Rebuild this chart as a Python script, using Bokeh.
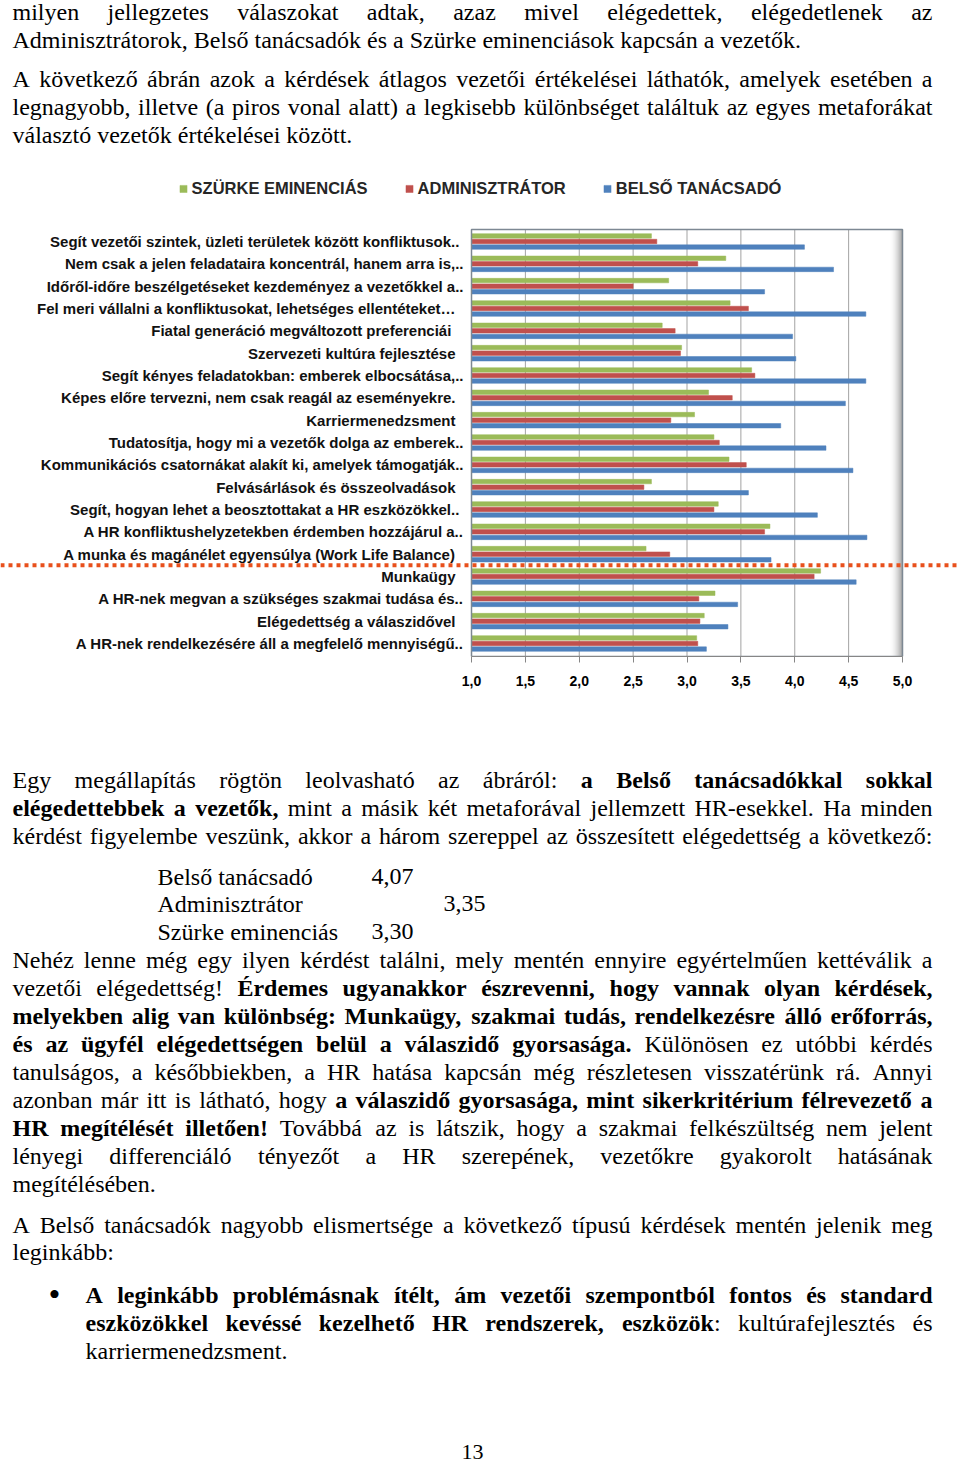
from bokeh.plotting import figure
from bokeh.models import (Range1d, Span, Legend, LegendItem, FixedTicker,
                          CustomJSTickFormatter, ColumnDataSource)
from bokeh.layouts import column
from bokeh.core.properties import value
from bokeh.embed import file_html
from bokeh.resources import INLINE

# ---------------- data ----------------
categories = [
    "Segít vezetői szintek, üzleti területek  között konfliktusok..",
    "Nem csak a jelen feladataira koncentrál, hanem arra is,..",
    "Időről-időre beszélgetéseket kezdeményez a vezetőkkel a..",
    "Fel meri vállalni a konfliktusokat, lehetséges ellentéteket…",
    "Fiatal generáció megváltozott  preferenciái",
    "Szervezeti kultúra fejlesztése",
    "Segít kényes feladatokban: emberek elbocsátása,..",
    "Képes előre tervezni, nem csak reagál az eseményekre.",
    "Karriermenedzsment",
    "Tudatosítja, hogy mi a vezetők dolga az emberek..",
    "Kommunikációs csatornákat alakít ki, amelyek támogatják..",
    "Felvásárlások és összeolvadások",
    "Segít,  hogyan lehet a beosztottakat a HR eszközökkel..",
    "A HR konfliktushelyzetekben érdemben hozzájárul a..",
    "A munka és magánélet egyensúlya (Work Life Balance)",
    "Munkaügy",
    "A HR-nek megvan a szükséges szakmai tudása és..",
    "Elégedettség a válaszidővel",
    "A HR-nek rendelkezésére áll a megfelelő mennyiségű..",
]
szurke_eminencias = [2.67, 3.36, 2.83, 3.40, 2.77, 2.95, 3.60, 3.20, 3.07, 3.25,
                     3.39, 2.67, 3.29, 3.77, 2.62, 4.24, 3.26, 3.16, 3.09]
adminisztrator = [2.72, 3.10, 2.50, 3.57, 2.89, 2.94, 3.63, 3.42, 2.85, 3.30,
                  3.55, 2.60, 3.25, 3.72, 2.84, 4.18, 3.11, 3.12, 3.10]
belso_tanacsado = [4.09, 4.36, 3.72, 4.66, 3.98, 4.01, 4.66, 4.47, 3.87, 4.29,
                   4.54, 3.57, 4.21, 4.67, 3.78, 4.57, 3.47, 3.38, 3.18]
series_labels = ["SZÜRKE EMINENCIÁS", "ADMINISZTRÁTOR", "BELSŐ TANÁCSADÓ"]
x_ticks = [1.0, 1.5, 2.0, 2.5, 3.0, 3.5, 4.0, 4.5, 5.0]
separator_before = "Munkaügy"
summary_roles = ["Belső tanácsadó", "Adminisztrátor", "Szürke eminenciás"]
summary_values = [4.07, 3.35, 3.30]

# ---------------- styling ----------------
W = 960
SERIF = "Liberation Serif"
SANS = "Liberation Sans"
FS = 24
COLORS = ["#9bbb59", "#c0504d", "#4f81bd"]
X0, X1 = 12, 932

REG_W = {' ': 250, ',': 250, '.': 250, ':': 278, ';': 278, '!': 333, '?': 444, '-': 333,
         '(': 333, ')': 333, '•': 350,
         'A': 722, 'B': 667, 'C': 667, 'D': 722, 'E': 611, 'F': 556, 'G': 722, 'H': 722,
         'I': 333, 'J': 389, 'K': 722, 'L': 611, 'M': 889, 'N': 722, 'O': 722, 'P': 556,
         'Q': 722, 'R': 667, 'S': 556, 'T': 611, 'U': 722, 'V': 722, 'W': 944, 'X': 722,
         'Y': 722, 'Z': 611,
         'a': 444, 'b': 500, 'c': 444, 'd': 500, 'e': 444, 'f': 333, 'g': 500, 'h': 500,
         'i': 278, 'j': 278, 'k': 500, 'l': 278, 'm': 778, 'n': 500, 'o': 500, 'p': 500,
         'q': 500, 'r': 333, 's': 389, 't': 278, 'u': 500, 'v': 500, 'w': 722, 'x': 500,
         'y': 500, 'z': 444}
BOLD_W = {' ': 250, ',': 250, '.': 250, ':': 333, ';': 333, '!': 333, '?': 500, '-': 333,
          '(': 333, ')': 333,
          'A': 722, 'B': 667, 'C': 722, 'D': 722, 'E': 667, 'F': 611, 'G': 778, 'H': 778,
          'I': 389, 'J': 500, 'K': 778, 'L': 667, 'M': 944, 'N': 722, 'O': 778, 'P': 611,
          'Q': 778, 'R': 722, 'S': 556, 'T': 667, 'U': 722, 'V': 722, 'W': 1000, 'X': 722,
          'Y': 722, 'Z': 667,
          'a': 500, 'b': 556, 'c': 444, 'd': 556, 'e': 444, 'f': 333, 'g': 500, 'h': 556,
          'i': 278, 'j': 333, 'k': 556, 'l': 278, 'm': 833, 'n': 556, 'o': 500, 'p': 556,
          'q': 556, 'r': 444, 's': 389, 't': 333, 'u': 556, 'v': 500, 'w': 722, 'x': 500,
          'y': 500, 'z': 444}
for d in (REG_W, BOLD_W):
    for ch in "0123456789":
        d[ch] = 500
ACC = str.maketrans("áéíóöőúüűÁÉÍÓÖŐÚÜŰ", "aeiooouuuAEIOOOUUU")


def tw(s, bold):
    t = BOLD_W if bold else REG_W
    return sum(t.get(c, 500) for c in s.translate(ACC)) * FS / 1000.0


def text_fig(height):
    f = figure(width=W, height=height, x_range=Range1d(0, W), y_range=Range1d(height, 0),
               output_backend="svg", toolbar_location=None, min_border=0,
               x_axis_location=None, y_axis_location=None)
    f.grid.visible = False
    f.outline_line_color = None
    return f


def draw_lines(f, lines, y_off):
    acc = {False: dict(x=[], y=[], t=[]), True: dict(x=[], y=[], t=[])}

    def add(x, y, s, b):
        acc[b]["x"].append(x)
        acc[b]["y"].append(y - y_off)
        acc[b]["t"].append(s)

    for y, runs, justify, x0, x1 in lines:
        if not justify and len(runs) == 1:
            add(x0, y, runs[0][0], runs[0][1])
            continue
        words, cur = [], []
        for text, bold in runs:
            parts = text.split(" ")
            for k, part in enumerate(parts):
                if k > 0 and cur:
                    words.append(cur)
                    cur = []
                if part:
                    cur.append((part, bold))
        if cur:
            words.append(cur)
        widths = [sum(tw(p, b) for p, b in w) for w in words]
        if justify and len(words) > 1:
            gap = (x1 - x0 - sum(widths)) / (len(words) - 1)
        else:
            gap = tw(" ", False)
        x = x0
        for w, wd in zip(words, widths):
            px = x
            for p, b in w:
                add(px, y, p, b)
                px += tw(p, b)
            x += wd + gap
    for b, d in acc.items():
        if d["t"]:
            f.text(x="x", y="y", text="t", source=ColumnDataSource(d),
                   text_font=value(SERIF), text_font_size=f"{FS}px",
                   text_font_style="bold" if b else "normal",
                   text_align="left", text_baseline="middle", text_color="#000000")


# ---------------- top text ----------------
TOP_H = 150
top = text_fig(TOP_H)
top_lines = [
    (11, [("milyen jellegzetes válaszokat adtak, azaz mivel elégedettek, elégedetlenek az", False)], True, X0, X1),
    (39, [("Adminisztrátorok, Belső tanácsadók és a Szürke eminenciások kapcsán a vezetők.", False)], False, X0, X1),
    (78, [("A következő ábrán azok a kérdések átlagos vezetői értékelései láthatók, amelyek esetében a", False)], True, X0, X1),
    (106, [("legnagyobb, illetve (a piros vonal alatt) a legkisebb különbséget találtuk az egyes metaforákat", False)], True, X0, X1),
    (134, [("választó vezetők értékelései között.", False)], False, X0, X1),
]
draw_lines(top, top_lines, 0)

# ---------------- chart ----------------
CH_TOP, CH_BOTTOM = 150, 710
AREA_TOP_PX, AREA_BOTTOM_PX = 229, 656
ROW0_PX, ROWN_PX = 241, 643
AXIS_L_PX, AXIS_R_PX = 471, 902
n = len(categories)
pitch = (ROWN_PX - ROW0_PX) / (n - 1)
ppu = (AXIS_R_PX - AXIS_L_PX) / (x_ticks[-1] - x_ticks[0])
xs = x_ticks[0] - AXIS_L_PX / ppu
xe = xs + W / ppu
y_top = (CH_TOP - ROW0_PX) / pitch
y_bot = (AREA_BOTTOM_PX - ROW0_PX) / pitch
area_top = (AREA_TOP_PX - ROW0_PX) / pitch

chart = figure(width=W, height=CH_BOTTOM - CH_TOP, x_range=Range1d(xs, xe),
               y_range=Range1d(y_bot, y_top), output_backend="svg", toolbar_location=None,
               min_border_left=0, min_border_right=0, min_border_top=0,
               min_border_bottom=CH_BOTTOM - AREA_BOTTOM_PX, y_axis_location=None)
chart.outline_line_color = None
chart.grid.visible = False

# grid lines
chart.segment(x0=x_ticks[1:-1], x1=x_ticks[1:-1], y0=area_top, y1=y_bot,
              line_color="#a3a3a3", line_width=1)

# shadow on right side of plot area
px = 1.0 / ppu
steps = 12
for i in range(steps):
    g = int(252 - (252 - 140) * (i / (steps - 1)) ** 1.6)
    chart.quad(left=x_ticks[-1] - (steps - i) * px, right=x_ticks[-1] - (steps - i - 1) * px,
               top=area_top, bottom=y_bot, fill_color=f"#{g:02x}{g:02x}{g:02x}",
               line_color=None)

idx = list(range(n))
src = ColumnDataSource(dict(
    g=[i - 0.25 for i in idx], r=idx, b=[i + 0.25 for i in idx],
    s=szurke_eminencias, a=adminisztrator, bt=belso_tanacsado,
))
renderers = []
for ycol, xcol, color in (("g", "s", COLORS[0]), ("r", "a", COLORS[1]), ("b", "bt", COLORS[2])):
    renderers.append(chart.hbar(y=ycol, left=x_ticks[0], right=xcol, height=0.2, source=src,
                                fill_color=color, line_color=color, line_width=0.5))

# plot area border
chart.quad(left=x_ticks[0], right=x_ticks[-1], top=area_top, bottom=y_bot,
           fill_color=None, line_color="#7d8893", line_width=1.5)

# category labels
lab = ColumnDataSource(dict(
    x=[x_ticks[0]] * n, y=idx, t=categories,
    off=[-8 if (c.endswith("..")) else -16 for c in categories],
))
chart.text(x="x", y="y", text="t", x_offset="off", source=lab, text_font=value(SANS),
           text_font_size="15px", text_font_style="bold", text_align="right",
           text_baseline="middle", text_color="#111111")

# red separator
chart.add_layout(Span(location=categories.index(separator_before) - 0.5, dimension="width",
                      line_color="#e8501c", line_width=4, line_dash="4 4"))

# x axis
ax = chart.xaxis[0]
ax.bounds = (x_ticks[0], x_ticks[-1])
ax.ticker = FixedTicker(ticks=x_ticks, minor_ticks=[])
ax.formatter = CustomJSTickFormatter(code="return tick.toFixed(1).replace('.', ',');")
ax.axis_line_color = "#868686"
ax.major_tick_line_color = "#868686"
ax.major_tick_out = 6
ax.major_tick_in = 0
ax.minor_tick_line_color = None
ax.major_label_text_font = SANS
ax.major_label_text_font_style = "bold"
ax.major_label_text_font_size = "14px"
ax.major_label_text_color = "#000000"
ax.major_label_standoff = 13

legend = Legend(items=[LegendItem(label=series_labels[i], renderers=[renderers[i]]) for i in range(3)],
                orientation="horizontal", location="top_center", margin=29, padding=0,
                spacing=37, glyph_width=9, glyph_height=9, label_standoff=4,
                label_text_font=SANS, label_text_font_style="bold",
                label_text_font_size="16.5px", label_text_color="#262626",
                border_line_color=None, background_fill_alpha=0)
chart.add_layout(legend)

# ---------------- bottom text ----------------
BOT_H = 1462 - CH_BOTTOM
bottom = text_fig(BOT_H)
BX0 = 85
bottom_lines = [
    (779, [("Egy megállapítás rögtön leolvasható az ábráról: ", False), ("a Belső tanácsadókkal sokkal", True)], True, X0, X1),
    (807, [("elégedettebbek a vezetők,", True), (" mint a másik két metaforával jellemzett HR-esekkel. Ha minden", False)], True, X0, X1),
    (835, [("kérdést figyelembe veszünk, akkor a három szereppel az összesített elégedettség a következő:", False)], True, X0, X1),
    (959, [("Nehéz lenne még egy ilyen kérdést találni, mely mentén ennyire egyértelműen kettéválik a", False)], True, X0, X1),
    (987, [("vezetői elégedettség! ", False), ("Érdemes ugyanakkor észrevenni, hogy vannak olyan kérdések,", True)], True, X0, X1),
    (1015, [("melyekben alig van különbség: Munkaügy, szakmai tudás, rendelkezésre álló erőforrás,", True)], True, X0, X1),
    (1043, [("és az ügyfél elégedettségen belül a válaszidő gyorsasága.", True), (" Különösen ez utóbbi kérdés", False)], True, X0, X1),
    (1071, [("tanulságos, a későbbiekben, a HR hatása kapcsán még részletesen visszatérünk rá. Annyi", False)], True, X0, X1),
    (1099, [("azonban már itt is látható, hogy ", False), ("a válaszidő gyorsasága, mint sikerkritérium félrevezető a", True)], True, X0, X1),
    (1127, [("HR megítélését illetően!", True), (" Továbbá az is látszik, hogy a szakmai felkészültség nem jelent", False)], True, X0, X1),
    (1155, [("lényegi differenciáló tényezőt a HR szerepének, vezetőkre gyakorolt hatásának", False)], True, X0, X1),
    (1183, [("megítélésében.", False)], False, X0, X1),
    (1224, [("A Belső tanácsadók nagyobb elismertsége a következő típusú kérdések mentén jelenik meg", False)], True, X0, X1),
    (1251, [("leginkább:", False)], False, X0, X1),
    (1294, [("A leginkább problémásnak ítélt, ám vezetői szempontból fontos és standard", True)], True, BX0, X1),
    (1322, [("eszközökkel kevéssé kezelhető HR rendszerek, eszközök", True), (": kultúrafejlesztés és", False)], True, BX0, X1),
    (1350, [("karriermenedzsment.", False)], False, BX0, X1),
]
# summary table
table_y = [876, 903, 931]
value_x = [371, 443, 371]
for role, v, yy, vx in zip(summary_roles, summary_values, table_y, value_x):
    bottom_lines.append((yy, [(role, False)], False, 157, X1))
    bottom_lines.append((yy, [(f"{v:.2f}".replace(".", ","), False)], False, vx, X1))
draw_lines(bottom, bottom_lines, CH_BOTTOM)

# bullet
bottom.text(x=[54], y=[1294 - CH_BOTTOM], text=["•"], text_font=value(SERIF),
            text_font_size="34px", text_align="center", text_baseline="middle",
            text_color="#000000")

bottom.text(x=[472], y=[1451 - CH_BOTTOM], text=["13"], text_font=value(SERIF),
            text_font_size="22px", text_align="center", text_baseline="middle",
            text_color="#000000")

layout = column(top, chart, bottom, spacing=0)
open("out.html", "w").write(file_html(layout, INLINE))
